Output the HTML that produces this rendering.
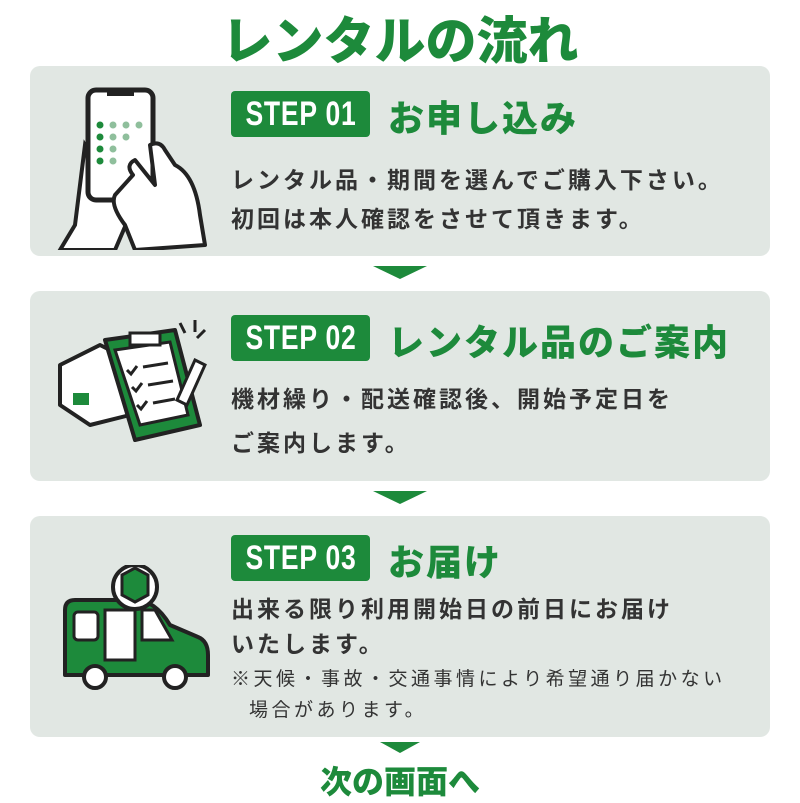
<!DOCTYPE html>
<html><head><meta charset="utf-8"><style>
*{margin:0;padding:0;box-sizing:border-box}
body{width:800px;height:800px;background:#fff;position:relative;overflow:hidden;font-family:"Liberation Sans","Noto Sans CJK JP",sans-serif}
.t{position:absolute;white-space:nowrap}
.panel{position:absolute;left:30px;width:740px;background:#e1e7e3;border-radius:10px}
.badge{position:absolute;left:231px;width:139px;height:46px;background:#1d8a3b;border-radius:4px;color:#fff;font-weight:bold;font-size:34px;line-height:46px;overflow:hidden}
.badge span{position:absolute;left:50%;top:0;white-space:nowrap;transform:translateX(-50%) scaleX(0.78);letter-spacing:1px}
.h{color:#1d8a3b;font-weight:900;font-size:36px;letter-spacing:2px}
.b{color:#333;font-weight:bold;font-size:23px;letter-spacing:3px}
.s{color:#333;font-size:19px;letter-spacing:3.5px}
.arr{position:absolute;left:373px;width:0;height:0;border-left:27px solid transparent;border-right:27px solid transparent;border-top:13px solid #1d8a3b}
</style></head><body>
<div class="t" style="left:0;width:800px;text-align:center;top:0px;font-size:51px;font-weight:900;color:#1d8a3b">レンタルの流れ</div>

<div class="panel" style="top:66px;height:190px"></div>
<div class="panel" style="top:291px;height:190px"></div>
<div class="panel" style="top:516px;height:221px"></div>
<div class="arr" style="top:266px"></div>
<div class="arr" style="top:491px"></div>
<div class="arr" style="top:742px;border-top-width:11px;left:380px;border-left-width:20px;border-right-width:20px"></div>

<div class="badge" style="top:91px"><span>STEP 01</span></div>
<div class="t h" style="left:388px;top:90px">お申し込み</div>
<div class="t b" style="left:231px;top:161px">レンタル品・期間を選んでご購入下さい。</div>
<div class="t b" style="left:231px;top:200px">初回は本人確認をさせて頂きます。</div>

<div class="badge" style="top:315px"><span>STEP 02</span></div>
<div class="t h" style="left:388px;top:314px">レンタル品のご案内</div>
<div class="t b" style="left:231px;top:380px">機材繰り・配送確認後、開始予定日を</div>
<div class="t b" style="left:231px;top:424px">ご案内します。</div>

<div class="badge" style="top:535px"><span>STEP 03</span></div>
<div class="t h" style="left:388px;top:534px">お届け</div>
<div class="t b" style="left:231px;top:590px">出来る限り利用開始日の前日にお届け</div>
<div class="t b" style="left:231px;top:625px">いたします。</div>
<div class="t s" style="left:231px;top:664px">※天候・事故・交通事情により希望通り届かない</div>
<div class="t s" style="left:249px;top:695px">場合があります。</div>

<div class="t" style="left:0;width:800px;text-align:center;top:757px;font-size:32px;font-weight:900;color:#1d8a3b">次の画面へ</div>

<!-- phone icon -->
<svg style="position:absolute;left:55px;top:85px" width="160" height="165" viewBox="0 0 160 165">
<path d="M30 60 L20 140 L5 165 L60 165 L75 130 Z" fill="#fff" stroke="#222" stroke-width="4"/>
<rect x="33" y="5" width="65" height="110" rx="8" fill="#fff" stroke="#222" stroke-width="5"/>
<rect x="52" y="5" width="27" height="6" fill="#222"/>
<g fill="#1d8a3b"><circle cx="45" cy="40" r="3.5"/><circle cx="45" cy="52" r="3.5"/><circle cx="45" cy="64" r="3.5"/><circle cx="45" cy="76" r="3.5"/></g>
<g fill="#8fbf9c"><circle cx="58" cy="40" r="3.5"/><circle cx="71" cy="40" r="3.5"/><circle cx="84" cy="40" r="3.5"/><circle cx="58" cy="52" r="3.5"/><circle cx="71" cy="52" r="3.5"/><circle cx="58" cy="64" r="3.5"/><circle cx="58" cy="76" r="3.5"/></g>
<path d="M78 90 Q70 80 80 75 L100 100 L95 60 Q105 55 110 65 L120 80 Q140 90 145 130 L150 160 L80 165 L70 140 Q55 120 60 110 Z" fill="#fff" stroke="#222" stroke-width="4" stroke-linejoin="round"/>
</svg>

<!-- clipboard icon -->
<svg style="position:absolute;left:55px;top:315px" width="160" height="130" viewBox="0 0 160 130">
<path d="M5 50 L45 30 L75 45 L75 100 L35 110 L5 90 Z" fill="#fff" stroke="#222" stroke-width="4" stroke-linejoin="round"/>
<rect x="18" y="78" width="16" height="12" fill="#1d8a3b"/>
<path d="M50 25 L120 15 L145 110 L80 125 Z" fill="#1d8a3b" stroke="#222" stroke-width="4" stroke-linejoin="round"/>
<path d="M60 35 L115 27 L133 100 L85 110 Z" fill="#fff" stroke="#222" stroke-width="3"/>
<rect x="75" y="18" width="30" height="12" fill="#fff" stroke="#222" stroke-width="3"/>
<g stroke="#222" stroke-width="3" fill="none"><path d="M72 55 l4 4 6-8 M88 52 l25-4 M77 72 l4 4 6-8 M93 70 l25-4 M82 90 l4 4 6-8 M98 88 l22-4"/></g>
<path d="M140 45 L150 50 L132 90 L122 85 Z" fill="#fff" stroke="#222" stroke-width="3"/>
<path d="M125 8 l5 10 M140 5 l0 12 M150 15 l-8 8" stroke="#222" stroke-width="3"/>
</svg>

<!-- van icon -->
<svg style="position:absolute;left:60px;top:565px" width="150" height="130" viewBox="0 0 150 130">
<path d="M5 45 Q5 35 15 35 L75 35 Q95 35 110 60 L138 72 Q148 76 148 90 L148 110 L5 110 Z" fill="#1d8a3b" stroke="#222" stroke-width="4" stroke-linejoin="round"/>
<rect x="14" y="47" width="24" height="28" rx="4" fill="#fff" stroke="#222" stroke-width="3"/>
<rect x="45" y="45" width="30" height="50" fill="#fff" stroke="#222" stroke-width="3"/>
<path d="M82 45 L95 45 L112 75 L82 75 Z" fill="#fff" stroke="#222" stroke-width="3"/>
<circle cx="35" cy="112" r="11" fill="#fff" stroke="#222" stroke-width="4"/>
<circle cx="115" cy="112" r="11" fill="#fff" stroke="#222" stroke-width="4"/>
<circle cx="75" cy="22" r="22" fill="#fff" stroke="#222" stroke-width="4"/>
<path d="M62 10 L75 3 L88 10 L88 30 L75 37 L62 30 Z" fill="#1d8a3b" stroke="#222" stroke-width="3"/>
</svg>
</body></html>
